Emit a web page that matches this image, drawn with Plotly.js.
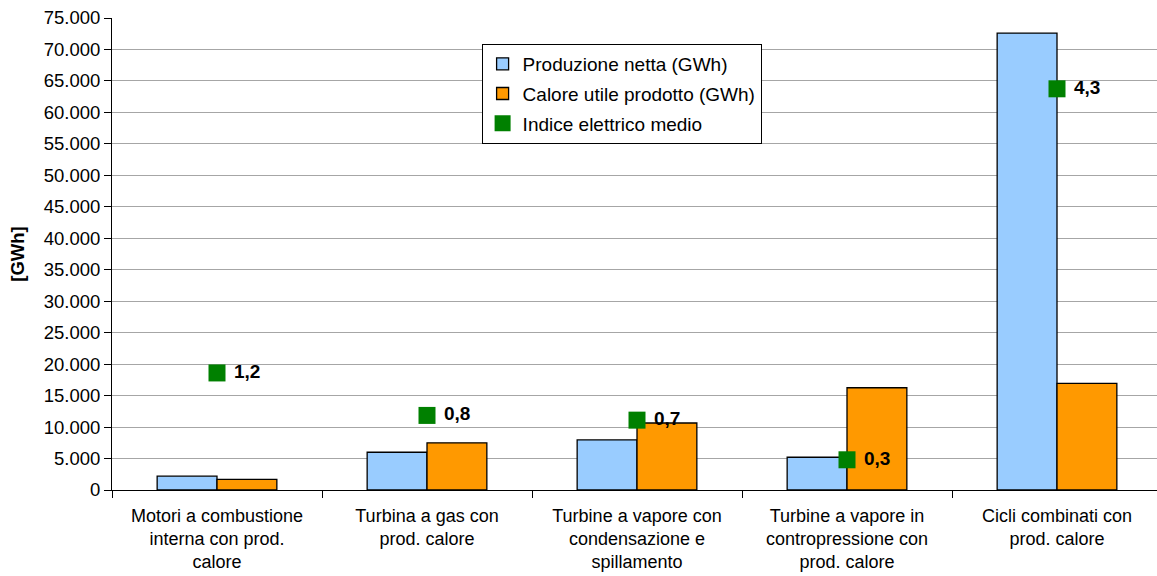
<!DOCTYPE html>
<html>
<head>
<meta charset="utf-8">
<script src="https://cdn.plot.ly/plotly-3.0.1.min.js"></script>
<style>
  html, body { margin: 0; padding: 0; overflow: hidden; background: #fff; }
  #chart { width: 1162px; height: 576px; }
</style>
</head>
<body>
<div id="chart"></div>
<script>
(function() {
  "use strict";

  var categories = [
    "Motori a combustione<br>interna con prod.<br>calore",
    "Turbina a gas con<br>prod. calore",
    "Turbine a vapore con<br>condensazione e<br>spillamento",
    "Turbine a vapore in<br>contropressione con<br>prod. calore",
    "Cicli combinati con<br>prod. calore"
  ];
  var produzioneNetta = [2200, 6000, 7950, 5200, 72600];
  var caloreUtile = [1700, 7500, 10650, 16250, 16950];
  var indiceElettrico = [1.24, 0.79, 0.74, 0.32, 4.25];
  var yTicks = [0, 5000, 10000, 15000, 20000, 25000, 30000, 35000, 40000,
    45000, 50000, 55000, 60000, 65000, 70000, 75000];

  var font = "Liberation Sans, Arial, sans-serif";

  function main() {
    var trace1 = {
      x: categories,
      y: produzioneNetta,
      name: "Produzione netta (GWh)",
      type: "bar",
      legendgroup: "a",
      marker: {color: "#99CCFF", line: {color: "#000000", width: 1.3}},
      hoverinfo: "y"
    };

    var trace2 = {
      x: categories,
      y: caloreUtile,
      name: "Calore utile prodotto (GWh)",
      type: "bar",
      legendgroup: "b",
      marker: {color: "#FF9900", line: {color: "#000000", width: 1.3}},
      hoverinfo: "y"
    };

    var trace3 = {
      x: categories,
      y: indiceElettrico,
      yaxis: "y2",
      name: "Indice elettrico medio",
      type: "scatter",
      mode: "markers+text",
      legendgroup: "c",
      marker: {symbol: "square", size: 17, color: "#008000"},
      texttemplate: " %{y:.1f}",
      textposition: "middle right",
      textfont: {family: font, size: 19, color: "#000000", weight: "bold"},
      cliponaxis: false
    };

    var layout = {
      width: 1162,
      height: 576,
      margin: {l: 112, r: 0, t: 18, b: 86},
      paper_bgcolor: "#ffffff",
      plot_bgcolor: "#ffffff",
      separators: ",.",
      font: {family: font, size: 19, color: "#000000"},
      barmode: "group",
      bargap: 0.43,
      bargroupgap: 0,
      showlegend: true,
      legend: {
        x: 0.352, y: 0.945, xanchor: "left", yanchor: "top",
        bgcolor: "#ffffff", bordercolor: "#000000", borderwidth: 1,
        font: {family: font, size: 19, color: "#000000"},
        traceorder: "grouped",
        tracegroupgap: 2,
        itemwidth: 30
      },
      xaxis: {
        type: "category",
        showgrid: false,
        showline: true,
        linecolor: "#000000",
        linewidth: 1,
        ticks: "outside",
        tickson: "boundaries",
        ticklen: 7,
        tickcolor: "#000000",
        ticklabelstandoff: 9,
        tickfont: {family: font, size: 18, color: "#000000"},
        automargin: false
      },
      yaxis: {
        range: [0, 75000],
        tickvals: yTicks,
        tickformat: ",d",
        showgrid: true,
        gridcolor: "#a6a6a6",
        gridwidth: 1,
        zeroline: false,
        showline: true,
        linecolor: "#000000",
        linewidth: 1,
        ticks: "outside",
        ticklen: 7,
        tickcolor: "#000000",
        tickfont: {family: font, size: 18.5, color: "#000000"},
        title: {text: "[GWh]", font: {family: font, size: 18.5, color: "#000000", weight: "bold"}, standoff: 14},
        automargin: false
      },
      yaxis2: {
        overlaying: "y",
        side: "right",
        range: [0, 5],
        visible: false
      }
    };

    Plotly.newPlot("chart", [trace1, trace2, trace3], layout, {displayModeBar: false});
  }

  window.addEventListener("load", main, false);
})();
</script>
</body>
</html>
